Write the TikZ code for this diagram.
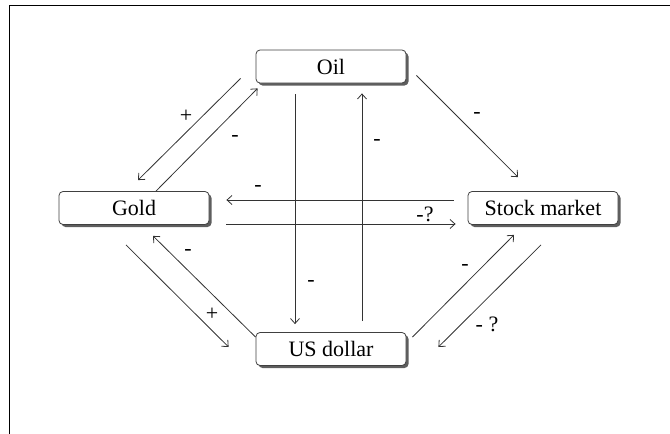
\documentclass[tikz,border=0pt]{standalone}
\usepackage{fontspec}
\setmainfont{Liberation Serif}
\newfontfamily\timesfont{Liberation Serif}
\usetikzlibrary{arrows.meta,calc,shadows}

\begin{document}
\begin{tikzpicture}[x=1pt,y=-1pt, >={Straight Barb[length=5pt,width=9pt]}]
\tikzstyle{place}=[draw=black!75, line width=0.8pt, rounded corners=4pt, fill=white, minimum width=150pt, minimum height=33pt, inner sep=0pt, font=\timesfont\fontsize{22}{26}\selectfont, drop shadow={shadow xshift=2.5pt, shadow yshift=-2.5pt, fill=black!70, opacity=0.9}]
\tikzstyle{sign}=[font=\timesfont\fontsize{22}{26}\selectfont, inner sep=0pt]
\tikzstyle{link}=[->, draw=black!80, line width=0.8pt]

\useasboundingbox (0,0) rectangle (670,434);

% Frame
\draw [line width=0.8pt] (670,5.5) -- (9.5,5.5) -- (9.5,434);

% Boxes
\node at (331, 66.5) [place] (oil) {Oil};
\node at (134, 208) [place] (gold) {Gold};
\node at (543, 208) [place] (stock) {Stock market};
\node at (331, 349) [place] (usd) {US dollar};

% Oil <-> Gold
\draw [link] ($(oil.south west)+(-15,-5)$) to ($(gold.north)+(4,-11)$);
\draw [link] ($(gold.north)+(22,0)$) to ($(oil.south west)+(2,5)$);

% Oil -> Stock market
\draw [link] ($(oil.south east)+(10,-8)$) to ($(stock.north)+(-25,-14)$);

% Oil <-> US dollar
\draw [link] ($(oil.south)+(-36,11)$) to ($(usd.north)+(-36,-8)$);
\draw [link] ($(usd.north)+(31,-11)$) to ($(oil.south)+(31,10)$);

% Gold <-> Stock market
\draw [link] ($(stock.west)+(-14,-8)$) to ($(gold.east)+(17,-8)$);
\draw [link] ($(gold.east)+(17,16)$) to ($(stock.west)+(-12,16)$);

% Gold <-> US dollar
\draw [link] ($(gold.south)+(-8,20)$) to ($(usd.west)+(-27,-2)$);
\draw [link] ($(usd.north west)+(0,5)$) to ($(gold.south)+(19,11)$);

% US dollar <-> Stock market
\draw [link] ($(usd.north east)+(6,5)$) to ($(stock.south)+(-29,10)$);
\draw [link] ($(stock.south)+(-2,20)$) to ($(usd.east)+(32,-2)$);

% Signs
\foreach \x/\y/\t [count=\i] in {186/116/+, 235/138/-, 477/115/-, 311/283/-, 377/142/-, 258/188/-, 425/214/-?, 212/314/+, 188/252/-, 465/267/-, 487/324/- ?}
\node at (\x, \y) [sign] (sign_\i) {\t};
\end{tikzpicture}
\end{document}
